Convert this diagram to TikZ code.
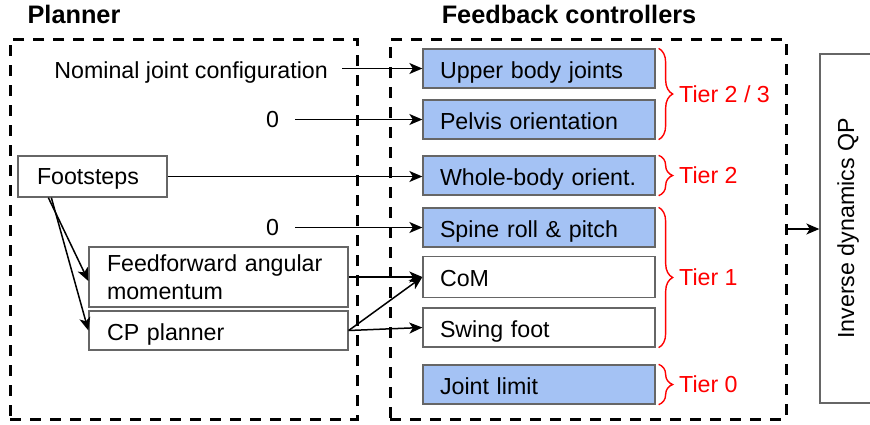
\documentclass[tikz,border=0pt]{standalone}
\usepackage{fontspec}
\setmainfont{Liberation Sans}
\usetikzlibrary{arrows.meta,decorations.pathreplacing,calc}
\definecolor{boxblue}{HTML}{A4C2F4}
\definecolor{boxedge}{HTML}{666666}
\definecolor{tierred}{HTML}{FF0000}
\begin{document}
\begin{tikzpicture}[x=1pt,y=-1pt,
  every node/.style={font=\fontsize{23.2}{28}\selectfont, inner sep=0pt},
  title/.style={font=\fontsize{25.3}{30}\selectfont\bfseries},
  group/.style={draw=black, line width=3pt, dash pattern=on 11pt off 9pt},
  ctrl/.style={draw=boxedge, line width=1.3pt, minimum height=39pt,
    text width=198pt, inner xsep=17pt, align=left, text height=19pt, text depth=0pt},
  pbox/.style={draw=boxedge, line width=1.3pt, align=left},
  oneline/.style={text height=19pt, text depth=0pt},
  arr/.style={-{Stealth[length=13pt,width=11pt,inset=3.5pt]}, line width=1.5pt},
  brace/.style={decorate, decoration={brace, amplitude=14pt}, draw=tierred, line width=1.4pt},
  tier/.style={text=tierred, anchor=west}]
\useasboundingbox (0,0) rectangle (870,424);

% titles
\node[title] (tplan) at (74,14) {Planner};
\node[title] (tfb) at (569,14) {Feedback controllers};

% dashed groups
\node[group, minimum width=347pt, minimum height=380pt] (plan) at (183.5,229) {};
\node[group, minimum width=396pt, minimum height=380pt] (fb) at (588,229) {};

% controllers
\node[ctrl, fill=boxblue] (upper)  at (539,68.5)  {Upper body joints};
\node[ctrl, fill=boxblue] (pelvis) at (539,119.5) {Pelvis orientation};
\node[ctrl, fill=boxblue] (whole)  at (539,175.5) {Whole-body orient.};
\node[ctrl, fill=boxblue] (spine)  at (539,227.5) {Spine roll \& pitch};
\node[ctrl, fill=white, minimum height=41pt] (com) at (539,277) {CoM};
\node[ctrl, fill=white]   (swing)  at (539,327.5) {Swing foot};
\node[ctrl, fill=boxblue] (jl)     at (539,384.5) {Joint limit};

% tiers
\draw[brace] ([xshift=3pt]upper.north east) -- ([xshift=3pt]pelvis.south east);
\draw[brace] ([xshift=3pt]whole.north east) -- ([xshift=3pt]whole.south east);
\draw[brace] ([xshift=3pt]spine.north east) -- ([xshift=3pt]swing.south east);
\draw[brace] ([xshift=3pt]jl.north east) -- ([xshift=3pt]jl.south east);
\node[tier] (t23) at (679,94)    {Tier 2 / 3};
\node[tier] (t2)  at (679,175.5) {Tier 2};
\node[tier] (t1)  at (679,277.5) {Tier 1};
\node[tier] (t0)  at (679,384.5) {Tier 0};

% QP
\node[draw=boxedge, line width=1.3pt, rotate=90, minimum width=349pt, minimum height=56pt] (qp) at (848,228.5) {Inverse dynamics QP};

% planner side
\node[oneline, anchor=east, inner xsep=14pt] (nom) at (342,68.5) {Nominal joint configuration};
\node[inner xsep=16pt] (z1) at (272.5,119.5) {0};
\node[inner xsep=16pt] (z2) at (272.5,227.5) {0};
\node[pbox, text width=111pt, inner xsep=19pt, minimum height=41pt, text height=15pt, text depth=0pt] (foot) at (92.5,176.5) {Footsteps};
\node[pbox, text width=223pt, inner xsep=18pt, minimum height=60pt] (ff) at (218.5,277) {Feedforward angular\\momentum};
\node[pbox, oneline, text width=223pt, inner xsep=18pt, minimum height=39pt] (cp) at (218.5,330.5) {CP planner};

% connectors
\draw[arr] (nom.east) -- (upper.west);
\draw[arr] (z1.east) -- (pelvis.west);
\draw[arr] (foot.east) -- (foot.east -| whole.west);
\draw[arr] (z2.east) -- (spine.west);
\draw[arr] ([xshift=31pt]foot.south west) -- ([yshift=-4pt]ff.west);
\draw[arr] ([xshift=34pt]foot.south west) -- (cp.west);
\draw[arr] (ff.east) -- (com.west);
\draw[arr] (cp.east) -- (com.west);
\draw[arr] (cp.east) -- (swing.west);
\draw[arr] (fb.east) -- (fb.east -| qp.north);
\end{tikzpicture}
\end{document}
